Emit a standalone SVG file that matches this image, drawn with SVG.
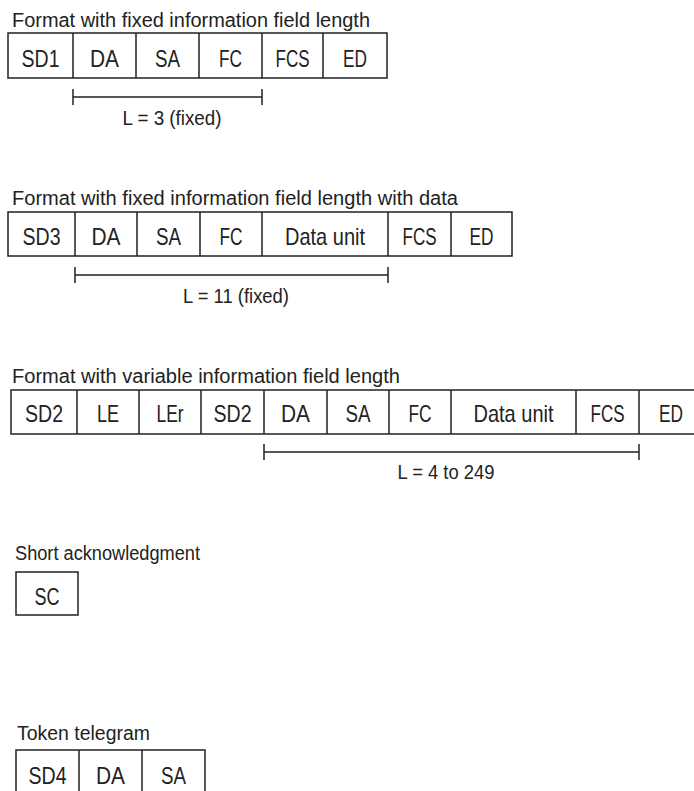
<svg xmlns="http://www.w3.org/2000/svg" width="694" height="791" viewBox="0 0 694 791">
<style>
.t{font-family:"Liberation Sans",Arial,sans-serif;fill:#222;}
.title{font-size:19.5px;}
.cell{font-size:24px;text-anchor:middle;}
.lbl{font-size:20px;text-anchor:middle;}
.box{fill:none;stroke:#222;stroke-width:1.5;}
.ln{stroke:#222;stroke-width:1.5;fill:none;}
</style>
<rect width="694" height="791" fill="#fff"/>
<g id="fmt-fixed">
<text class="t title" x="12" y="27" textLength="358" lengthAdjust="spacingAndGlyphs">Format with fixed information field length</text>
<rect class="box" x="8" y="33" width="379" height="45"/>
<path class="ln" d="M73 33V78M136 33V78M199 33V78M262 33V78M323 33V78"/>
<text class="t cell" x="40.5" y="67" textLength="38" lengthAdjust="spacingAndGlyphs">SD1</text>
<text class="t cell" x="104.5" y="67" textLength="29" lengthAdjust="spacingAndGlyphs">DA</text>
<text class="t cell" x="167.5" y="67" textLength="25" lengthAdjust="spacingAndGlyphs">SA</text>
<text class="t cell" x="230.5" y="67" textLength="23" lengthAdjust="spacingAndGlyphs">FC</text>
<text class="t cell" x="292.5" y="67" textLength="34" lengthAdjust="spacingAndGlyphs">FCS</text>
<text class="t cell" x="355" y="67" textLength="24" lengthAdjust="spacingAndGlyphs">ED</text>
</g>
<g id="fmt-fixed-data">
<text class="t title" x="12" y="205" textLength="446" lengthAdjust="spacingAndGlyphs">Format with fixed information field length with data</text>
<rect class="box" x="8" y="212" width="504" height="44"/>
<path class="ln" d="M75 212V256M137 212V256M200 212V256M262 212V256M388 212V256M451 212V256"/>
<text class="t cell" x="41.5" y="245" textLength="38" lengthAdjust="spacingAndGlyphs">SD3</text>
<text class="t cell" x="106" y="245" textLength="29" lengthAdjust="spacingAndGlyphs">DA</text>
<text class="t cell" x="168.5" y="245" textLength="25" lengthAdjust="spacingAndGlyphs">SA</text>
<text class="t cell" x="231" y="245" textLength="23" lengthAdjust="spacingAndGlyphs">FC</text>
<text class="t cell" x="325" y="245" textLength="80" lengthAdjust="spacingAndGlyphs">Data unit</text>
<text class="t cell" x="419.5" y="245" textLength="34" lengthAdjust="spacingAndGlyphs">FCS</text>
<text class="t cell" x="481.5" y="245" textLength="24" lengthAdjust="spacingAndGlyphs">ED</text>
</g>
<g id="fmt-variable">
<text class="t title" x="12" y="383" textLength="388" lengthAdjust="spacingAndGlyphs">Format with variable information field length</text>
<rect class="box" x="11" y="390" width="692" height="44"/>
<path class="ln" d="M77 390V434M139 390V434M201 390V434M264 390V434M327 390V434M389 390V434M451 390V434M576 390V434M639 390V434"/>
<text class="t cell" x="44" y="422" textLength="38" lengthAdjust="spacingAndGlyphs">SD2</text>
<text class="t cell" x="108" y="422" textLength="22" lengthAdjust="spacingAndGlyphs">LE</text>
<text class="t cell" x="170" y="422" textLength="27" lengthAdjust="spacingAndGlyphs">LEr</text>
<text class="t cell" x="232.5" y="422" textLength="38" lengthAdjust="spacingAndGlyphs">SD2</text>
<text class="t cell" x="295.5" y="422" textLength="29" lengthAdjust="spacingAndGlyphs">DA</text>
<text class="t cell" x="358" y="422" textLength="25" lengthAdjust="spacingAndGlyphs">SA</text>
<text class="t cell" x="420" y="422" textLength="23" lengthAdjust="spacingAndGlyphs">FC</text>
<text class="t cell" x="513.5" y="422" textLength="80" lengthAdjust="spacingAndGlyphs">Data unit</text>
<text class="t cell" x="607.5" y="422" textLength="34" lengthAdjust="spacingAndGlyphs">FCS</text>
<text class="t cell" x="671" y="422" textLength="24" lengthAdjust="spacingAndGlyphs">ED</text>
</g>
<g id="short-ack">
<text class="t title" x="15" y="560" textLength="185" lengthAdjust="spacingAndGlyphs">Short acknowledgment</text>
<rect class="box" x="16" y="572" width="62" height="43"/>
<text class="t cell" x="47" y="605" textLength="25" lengthAdjust="spacingAndGlyphs">SC</text>
</g>
<g id="token">
<text class="t title" x="17" y="740" textLength="133" lengthAdjust="spacingAndGlyphs">Token telegram</text>
<rect class="box" x="16" y="750" width="189" height="60"/>
<path class="ln" d="M79 750V810M142 750V810"/>
<text class="t cell" x="47.5" y="784" textLength="38" lengthAdjust="spacingAndGlyphs">SD4</text>
<text class="t cell" x="110.5" y="784" textLength="29" lengthAdjust="spacingAndGlyphs">DA</text>
<text class="t cell" x="173.5" y="784" textLength="25" lengthAdjust="spacingAndGlyphs">SA</text>
</g>
<g id="connectors">
<path class="ln" d="M73 97H262M73 89V105M262 89V105"/>
<path class="ln" d="M75 275H388M75 267V283M388 267V283"/>
<path class="ln" d="M264 452H639M264 444V460M639 444V460"/>
</g>
<g id="labels">
<text class="t lbl" x="172" y="125" textLength="99" lengthAdjust="spacingAndGlyphs">L = 3 (fixed)</text>
<text class="t lbl" x="236" y="303" textLength="106" lengthAdjust="spacingAndGlyphs">L = 11 (fixed)</text>
<text class="t lbl" x="446" y="479" textLength="97" lengthAdjust="spacingAndGlyphs">L = 4 to 249</text>
</g>
</svg>
